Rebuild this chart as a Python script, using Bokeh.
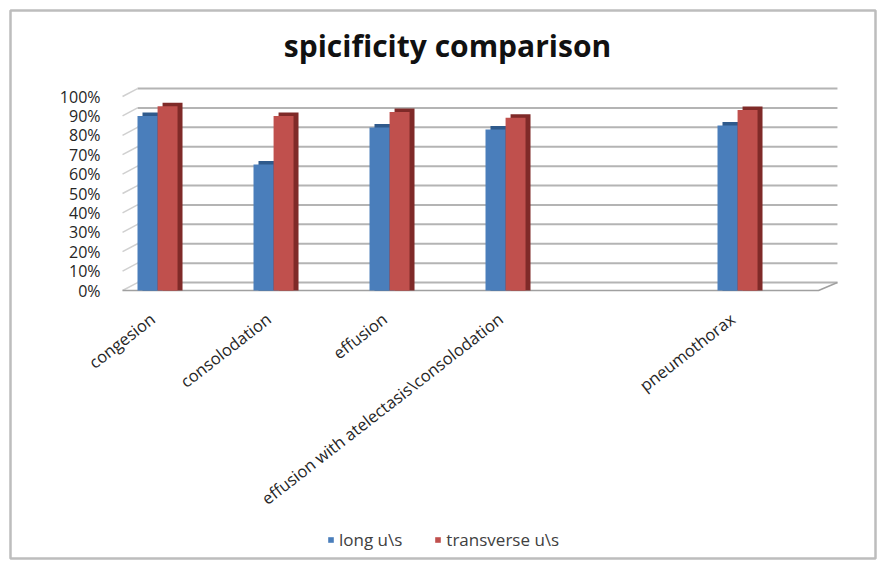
import math
from bokeh.plotting import figure
from bokeh.models import Range1d, Legend, LegendItem, ColumnDataSource
from bokeh.transform import dodge
from bokeh.core.properties import value
from bokeh.embed import file_html
from bokeh.resources import INLINE

# ---- data ----
categories = ["congesion", "consolodation", "effusion",
              "effusion with atelectasis\\consolodation", "", "pneumothorax"]
long_us = [0.90, 0.65, 0.84, 0.83, float("nan"), 0.85]
transverse_us = [0.95, 0.90, 0.92, 0.89, float("nan"), 0.93]
series_names = ["long u\\s", "transverse u\\s"]
y_ticks = [0.0, 0.1, 0.2, 0.3, 0.4, 0.5, 0.6, 0.7, 0.8, 0.9, 1.0]
y_tick_labels = ["0%", "10%", "20%", "30%", "40%", "50%", "60%", "70%", "80%", "90%", "100%"]
title_text = "spicificity comparison"

# ---- style constants ----
FONT = "Open Sans"
BLUE, BLUE_DARK = "#4a7ebb", "#2f5a8c"
RED, RED_DARK = "#c0504d", "#7f2a28"
GRID = "#b4b4b4"
BAR_W = 0.172
OFF_BLUE, OFF_RED = -0.095, 0.078
SIDE_DX, SIDE_DY = 0.043, 0.018
WALL_FRONT, WALL_BACK, WALL_RIGHT_FRONT, WALL_RIGHT_BACK = -0.31, -0.181, 5.69, 5.853
DEPTH_Y = 0.041

# frame = whole chart area (its outline is the chart's border)
X0, X1 = -1.2759, 6.181
Y0, Y1 = -1.3814, 1.4433
PX_PER_X, PX_PER_Y = 116.0, 194.0
FRAME_LEFT, FRAME_TOP = 10, 10


def dx(px):
    return X0 + (px - FRAME_LEFT) / PX_PER_X


def dy(py):
    return Y1 - (py - FRAME_TOP) / PX_PER_Y


x = list(range(len(categories)))
src = ColumnDataSource(dict(
    x=x, long=long_us, trans=transverse_us,
    long_side=[v + SIDE_DY for v in long_us],
    trans_side=[v + SIDE_DY for v in transverse_us],
))
lab_src = ColumnDataSource(dict(x=x, y=[0] * len(x), text=categories))
tick_src = ColumnDataSource(dict(x=[WALL_FRONT] * len(y_ticks), y=y_ticks, text=y_tick_labels))

p = figure(width=878, height=561, output_backend="svg", toolbar_location=None,
           x_range=Range1d(X0, X1), y_range=Range1d(Y0, Y1),
           min_border_left=FRAME_LEFT, min_border_right=3, min_border_top=FRAME_TOP,
           min_border_bottom=3)
p.outline_line_color = "#bdbdbd"
p.outline_line_width = 2.5
p.xgrid.visible = False
p.ygrid.visible = False
p.xaxis.visible = False
p.yaxis.visible = False
p.background_fill_color = "white"
p.border_fill_color = "white"

# back wall gridlines + left wall diagonals
p.segment(x0=[WALL_BACK] * len(y_ticks), x1=[WALL_RIGHT_BACK] * len(y_ticks),
          y0=[v + DEPTH_Y for v in y_ticks], y1=[v + DEPTH_Y for v in y_ticks],
          line_color=GRID, line_width=2)
p.segment(x0=[WALL_FRONT] * len(y_ticks), x1=[WALL_BACK] * len(y_ticks),
          y0=y_ticks, y1=[v + DEPTH_Y for v in y_ticks],
          line_color="#d0d0d0", line_width=1.5)
# floor front edge
p.line(x=[WALL_FRONT, WALL_RIGHT_FRONT, WALL_RIGHT_BACK], y=[0, 0, DEPTH_Y],
       line_color="#a0a0a0", line_width=1.5)

# bars with 3D side faces
p.vbar(x=dodge("x", OFF_BLUE + SIDE_DX, range=p.x_range), top="long_side", bottom=0,
       width=BAR_W, source=src, fill_color=BLUE_DARK, line_color=None)
rb = p.vbar(x=dodge("x", OFF_BLUE, range=p.x_range), top="long", bottom=0,
            width=BAR_W, source=src, fill_color=BLUE, line_color=None)
p.vbar(x=dodge("x", OFF_RED + SIDE_DX, range=p.x_range), top="trans_side", bottom=0,
       width=BAR_W, source=src, fill_color=RED_DARK, line_color=None)
rr = p.vbar(x=dodge("x", OFF_RED, range=p.x_range), top="trans", bottom=0,
            width=BAR_W, source=src, fill_color=RED, line_color=None)

# value-axis tick labels
p.text(x="x", y="y", text="text", source=tick_src, text_align="right",
       text_baseline="middle", x_offset=-22, text_font=value(FONT),
       text_font_size="16px", text_color="#262626")

# category labels (rotated, under the floor)
p.text(x="x", y="y", text="text", source=lab_src, angle=0.66,
       text_align="right", text_baseline="middle", x_offset=-6, y_offset=26,
       text_font=value(FONT), text_font_size="16.5px", text_color="#262626")

# title
p.text(x=[dx(447)], y=[dy(45)], text=[title_text], text_align="center",
       text_baseline="middle", text_font=value(FONT), text_font_style="bold",
       text_font_size="30px", text_color="#111111")

# legend
legend = Legend(items=[LegendItem(label=series_names[0], renderers=[rb]),
                       LegendItem(label=series_names[1], renderers=[rr])],
                orientation="horizontal", location=(317, 7),
                glyph_width=7, glyph_height=7, label_standoff=5,
                label_text_font=FONT,
                label_text_font_size="17px", label_text_color="#404040",
                border_line_color=None, background_fill_alpha=0,
                spacing=32, margin=0, padding=4)
p.add_layout(legend)

open("out.html", "w").write(file_html(p, INLINE))
